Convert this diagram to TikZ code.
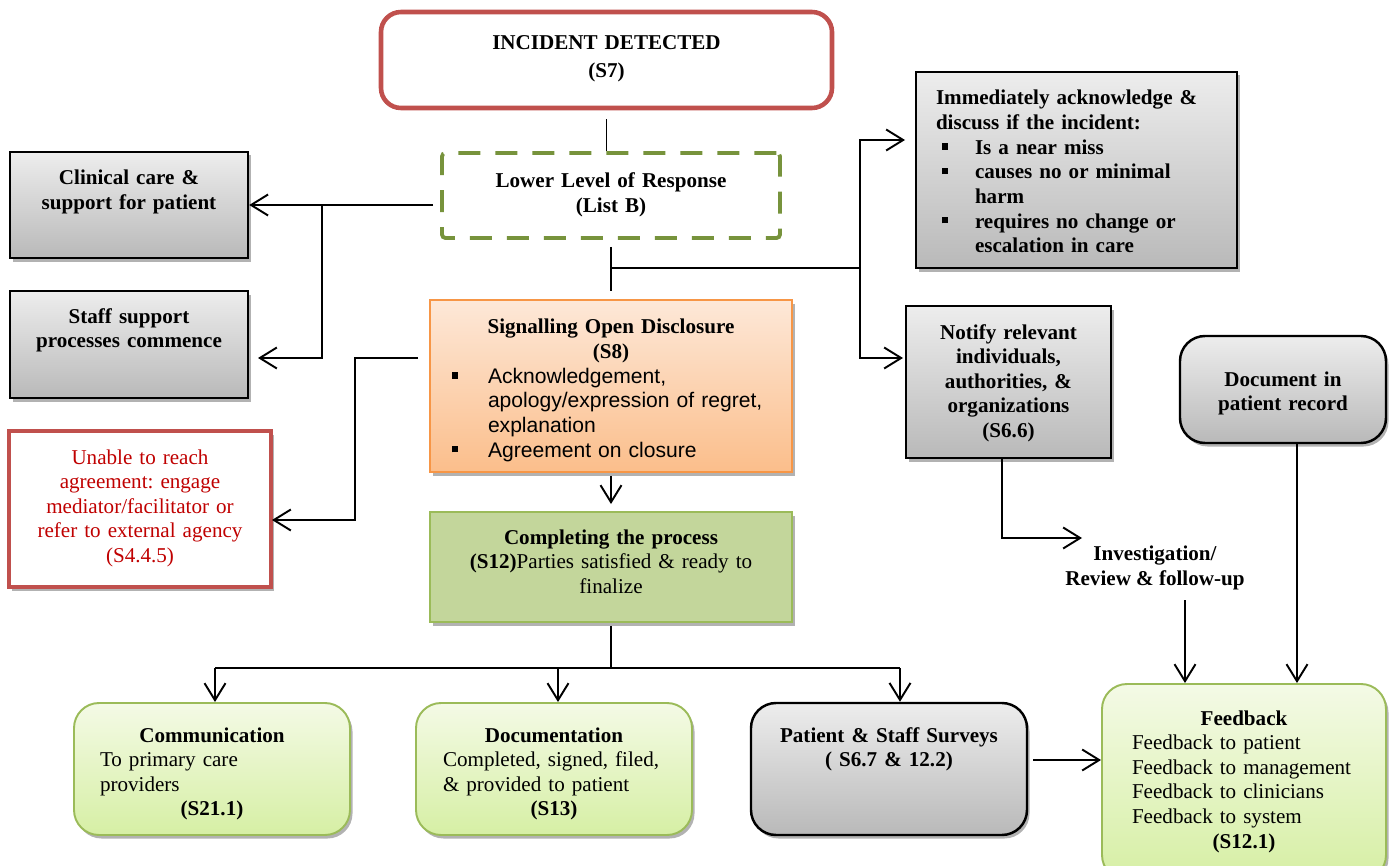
\documentclass[tikz,border=0pt]{standalone}
\usepackage{fontspec}
\setmainfont{Liberation Serif}
\newfontfamily\arialfont{Liberation Sans}
\usetikzlibrary{arrows.meta,shadows}
\definecolor{redB}{HTML}{C0504D}
\definecolor{redT}{HTML}{C00000}
\definecolor{oliveB}{HTML}{77933C}
\definecolor{orangeB}{HTML}{F79646}
\definecolor{orangeT}{HTML}{FDE8D8}
\definecolor{orangeD}{HTML}{FBBE8B}
\definecolor{greenB}{HTML}{9BBB59}
\definecolor{greenF}{HTML}{C3D69B}
\definecolor{limeT}{HTML}{F4FAE6}
\definecolor{limeD}{HTML}{D6EFA4}
\definecolor{grayT}{HTML}{EDEDED}
\definecolor{grayD}{HTML}{B9B9B9}
\frenchspacing
\newcommand{\sqbul}{\rule[2.6pt]{3.6pt}{3.6pt}}
\newcommand{\sqitem}[2]{\makebox[#2][l]{\hspace*{#1}\sqbul}}
\newcommand{\ctrline}[1]{\hfill#1\hfill\null}
\begin{document}
\begin{tikzpicture}[font=\fontsize{12}{14}\selectfont,
  every node/.append style={inner xsep=0.2cm},
  arr/.style={-{Straight Barb[length=3.4mm,width=4.2mm]},line width=1.1pt},
  conn/.style={line width=1.1pt},
  shad/.style={drop shadow={shadow xshift=0.05cm,shadow yshift=-0.07cm,opacity=0.3,fill=black}},
  graybox/.style={draw=black,line width=1.4pt,top color=grayT,bottom color=grayD,shad,inner ysep=0pt,anchor=base,font=\fontsize{12}{14}\selectfont\bfseries},
  limebox/.style={draw=greenB,line width=1.1pt,rounded corners=0.5cm,top color=limeT,bottom color=limeD,shad,inner ysep=0pt,anchor=base,align=left}]
\useasboundingbox (0,0) rectangle (27.90,-17.32);

\node[draw=redB,line width=2.6pt,rounded corners=0.4cm,fill=white,text width=8.62cm,align=center,inner ysep=0pt,text height=0.76cm,text depth=1.16cm,anchor=base,font=\fontsize{12}{14}\selectfont\bfseries] (inc) at (12.13,-1.00) {INCIDENT DETECTED\\[0.06cm](S7)};
\node[draw=oliveB,line width=2.2pt,dash pattern=on 0.44cm off 0.3cm,rounded corners=2pt,text width=6.36cm,align=center,inner ysep=0pt,text height=0.70cm,text depth=1.00cm,anchor=base,font=\fontsize{12}{14}\selectfont\bfseries] (low) at (12.22,-3.76) {Lower Level of Response\\(List B)};
\node[graybox,text width=4.36cm,align=center,text height=0.66cm,text depth=1.46cm] (clin) at (2.58,-3.70) {Clinical care \&\\support for patient};
\node[graybox,text width=4.36cm,align=center,text height=0.64cm,text depth=1.50cm] (staff) at (2.58,-6.46) {Staff support\\processes commence};
\node[draw=redB,line width=2.4pt,fill=white,shad,text=redT,text width=4.84cm,align=center,inner ysep=0pt,text height=0.66cm,text depth=2.46cm,anchor=base] (unab) at (2.80,-9.28) {Unable to reach\\agreement: engage\\mediator/facilitator or\\refer to external agency\\(S4.4.5)};
\node[draw=orangeB,line width=1.1pt,top color=orangeT,bottom color=orangeD,shad,inner xsep=0.1cm,inner ysep=0pt,text width=7.04cm,align=left,text height=0.68cm,text depth=2.76cm,anchor=base] (sig) at (12.22,-6.68) {\ctrline{\textbf{Signalling Open Disclosure}}\\\ctrline{\textbf{(S8)}}\\{\arialfont\sqitem{0.34cm}{1.06cm}Acknowledgement,\\\hspace*{1.06cm}apology/expression of regret,\\\hspace*{1.06cm}explanation\\\sqitem{0.34cm}{1.06cm}Agreement on closure}};
\node[draw=greenB,line width=1.1pt,fill=greenF,shad,text width=6.84cm,align=center,inner ysep=0pt,text height=0.64cm,text depth=1.56cm,anchor=base] (comp) at (12.22,-10.88) {\textbf{Completing the process}\\\textbf{(S12)}Parties satisfied \& ready to\\finalize};
\node[graybox,inner xsep=0.4cm,text width=5.62cm,align=left,text height=0.66cm,text depth=3.26cm] (imm) at (21.53,-2.10) {Immediately acknowledge \&\\discuss if the incident:\\\sqitem{0.12cm}{0.78cm}Is a near miss\\\sqitem{0.12cm}{0.78cm}causes no or minimal\\\hspace*{0.78cm}harm\\\sqitem{0.12cm}{0.78cm}requires no change or\\\hspace*{0.78cm}escalation in care};
\node[graybox,text width=3.70cm,align=center,text height=0.66cm,text depth=2.38cm] (notf) at (20.17,-6.78) {Notify relevant\\individuals,\\authorities, \&\\organizations\\(S6.6)};
\node[graybox,rounded corners=0.5cm,text width=3.72cm,align=center,text height=1.00cm,text depth=1.14cm] (doc) at (25.66,-7.72) {Document in\\patient record};
\node[anchor=base,align=center,font=\fontsize{12}{14}\selectfont\bfseries] (inv) at (23.10,-11.70) {Investigation/\\Review \& follow-up};
\node[limebox,inner xsep=0.6cm,text width=4.48cm,text height=0.82cm,text depth=3.10cm] (fb) at (24.88,-14.50) {\ctrline{\textbf{Feedback}}\\Feedback to patient\\Feedback to management\\Feedback to clinicians\\Feedback to system\\\ctrline{\textbf{(S12.1)}}};
\node[limebox,inner xsep=0.52cm,text width=4.48cm,text height=0.78cm,text depth=1.86cm] (comm) at (4.24,-14.84) {\ctrline{\textbf{Communication}}\\To primary care\\providers\\\ctrline{\textbf{(S21.1)}}};
\node[limebox,inner xsep=0.54cm,text width=4.44cm,text height=0.78cm,text depth=1.86cm] (docm) at (11.08,-14.84) {\ctrline{\textbf{Documentation}}\\Completed, signed, filed,\\\& provided to patient\\\ctrline{\textbf{(S13)}}};
\node[graybox,rounded corners=0.5cm,text width=5.12cm,align=center,text height=0.78cm,text depth=1.86cm] (surv) at (17.78,-14.84) {Patient \& Staff Surveys\\( S6.7 \& 12.2)};

\coordinate (j1) at (6.44,-4.10);
\coordinate (staffin) at (5.16,-7.16);
\coordinate (j2) at (17.20,-5.36);
\coordinate (immin) at (18.10,-2.80);
\coordinate (notin) at (18.06,-7.16);
\coordinate (sigout) at (8.36,-7.16);
\coordinate (unin) at (5.44,-10.40);
\coordinate (j4) at (12.22,-13.36);
\coordinate (invin) at (21.64,-10.76);
\coordinate (invout) at (23.70,-12.00);

\draw[conn] ([yshift=-0.18cm]inc.south) -- (inc.south |- low.north);
\draw[arr] (clin.east -| low.west) ++(-0.14,0) -- (clin.east);
\draw[arr] (j1) |- (staffin);
\draw[conn] ([yshift=-0.14cm]low.south) -- ([yshift=0.16cm]sig.north);
\draw[conn] (low.south |- j2) -- (j2);
\draw[arr] (j2) |- (immin);
\draw[arr] (j2) |- (notin);
\draw[arr] (sigout) -- ++(-1.26,0) |- (unin);
\draw[arr] ([yshift=-0.06cm]sig.south) -- ([yshift=0.14cm]comp.north);
\draw[conn] ([yshift=-0.06cm]comp.south) -- (j4);
\draw[conn] ([xshift=0.06cm]comm.north |- j4) -- ([xshift=0.22cm]surv.north |- j4);
\draw[arr] ([xshift=0.06cm]comm.north |- j4) -- ([xshift=0.06cm]comm.north);
\draw[arr] ([xshift=0.08cm]docm.north |- j4) -- ([xshift=0.08cm]docm.north);
\draw[arr] ([xshift=0.22cm]surv.north |- j4) -- ([xshift=0.22cm]surv.north);
\draw[arr] ([xshift=-0.13cm]notf.south) |- (invin);
\draw[arr] (invout) -- (invout |- fb.north);
\draw[arr] ([xshift=0.28cm]doc.south) -- ([xshift=0.28cm]doc.south |- fb.north);
\draw[arr] ([xshift=0.1cm,yshift=0.18cm]surv.east) -- ([yshift=0.18cm]surv.east -| fb.west);
\end{tikzpicture}
\end{document}
